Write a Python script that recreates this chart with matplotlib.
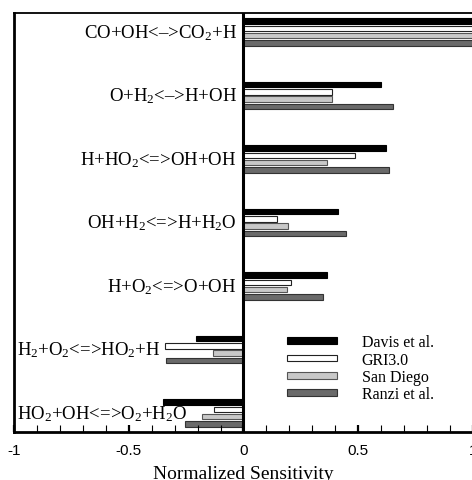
import matplotlib
matplotlib.use("Agg")
import matplotlib.pyplot as plt
import numpy as np
from matplotlib.ticker import MultipleLocator

plt.rcParams['mathtext.fontset'] = 'custom'
plt.rcParams['mathtext.rm'] = 'Liberation Serif'
plt.rcParams['mathtext.it'] = 'Liberation Serif:italic'

reactions = [
    r"CO+OH<–>CO$_2$+H",
    r"O+H$_2$<–>H+OH",
    r"H+HO$_2$<=>OH+OH",
    r"OH+H$_2$<=>H+H$_2$O",
    r"H+O$_2$<=>O+OH",
    r"H$_2$+O$_2$<=>HO$_2$+H",
    r"HO$_2$+OH<=>O$_2$+H$_2$O",
]
series = ["Davis et al.", "GRI3.0", "San Diego", "Ranzi et al."]
davis = [1.0, 0.60, 0.62, 0.41, 0.364, -0.205, -0.35]
gri = [1.0, 0.385, 0.487, 0.146, 0.207, -0.34, -0.13]
sandiego = [1.0, 0.385, 0.364, 0.195, 0.189, -0.134, -0.18]
ranzi = [1.0, 0.65, 0.632, 0.446, 0.345, -0.336, -0.254]
xticks = [-1, -0.5, 0, 0.5, 1]
xticklabels = ["-1", "-0.5", "0", "0.5", "1"]

values = [davis, gri, sandiego, ranzi]
faces = ["#000000", "#ffffff", "#c8c8c8", "#6a6a6a"]
edges = ["#000000", "#222222", "#555555", "#333333"]

fig = plt.figure(figsize=(4.72, 4.81), dpi=100)
ax = fig.add_axes([14/472, 1-433/481, 459/472, 419/481])

y = np.arange(len(reactions))
pitch = 0.115
height = 0.088
for k, (vals, fc, ec, name) in enumerate(zip(values, faces, edges, series)):
    off = (k - 1.5) * pitch
    ax.barh(y + off, vals, height=height, color=fc, edgecolor=ec, linewidth=0.8, label=name)

ax.set_xlim(-1, 1)
ax.set_ylim(6.3, -0.3)
ax.axvline(0, color='black', lw=2.2, zorder=5)

serif = 'Liberation Serif'
for i, lab in enumerate(reactions):
    vals = [v[i] for v in values]
    if min(vals) < 0:
        ax.text(-0.985, i, lab, ha='left', va='center', fontsize=13.5, family=serif)
    else:
        ax.text(-0.03, i, lab, ha='right', va='center', fontsize=13.5, family=serif)

ax.set_yticks([])
ax.set_xticks(xticks)
ax.set_xticklabels(xticklabels, family='Liberation Sans', fontsize=11)
ax.xaxis.set_minor_locator(MultipleLocator(0.1))
ax.tick_params(axis='x', which='major', direction='in', length=5, width=1.6, pad=8)
ax.tick_params(axis='x', which='minor', direction='in', length=5, width=0.8)
ax.set_xlabel("Normalized Sensitivity", family=serif, fontsize=14, labelpad=6)

for s in ['left', 'bottom']:
    ax.spines[s].set_linewidth(2.0)
ax.spines['top'].set_linewidth(1.3)
ax.spines['right'].set_linewidth(1.3)

leg = ax.legend(loc='upper left', bbox_to_anchor=(0.578, 0.252), frameon=False,
                borderpad=0, handlelength=3.1, handleheight=0.28, handletextpad=1.55,
                labelspacing=0.08, prop={'family': serif, 'size': 11.5})

fig.savefig("out.png", dpi=100)
